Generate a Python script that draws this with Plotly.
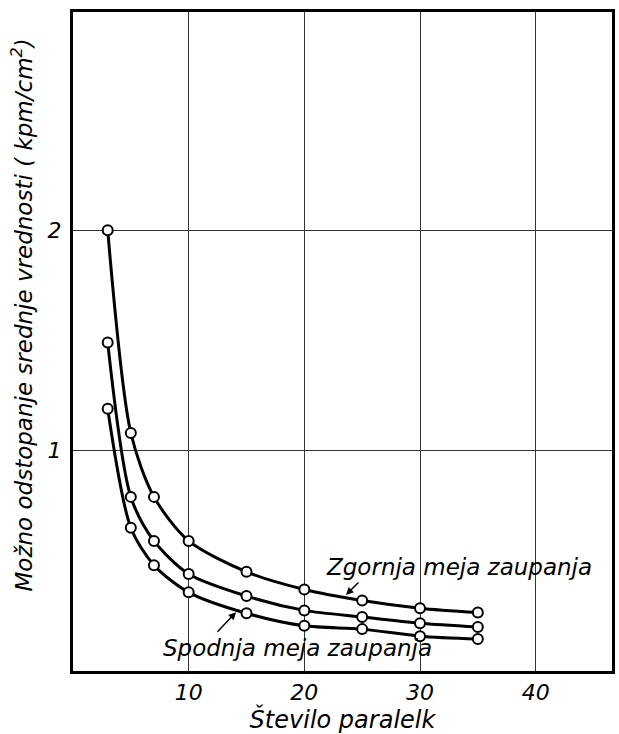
import plotly.graph_objects as go

# Number of parallel samples
paralelke = [3, 5, 7, 10, 15, 20, 25, 30, 35]

# Possible deviation of the mean value (kpm/cm2)
zgornja = [2.00, 1.08, 0.79, 0.59, 0.45, 0.37, 0.32, 0.285, 0.265]
srednja = [1.49, 0.79, 0.59, 0.44, 0.34, 0.275, 0.245, 0.217, 0.20]
spodnja = [1.19, 0.65, 0.48, 0.357, 0.262, 0.205, 0.19, 0.158, 0.145]

x_ticks = [10, 20, 30, 40]
y_ticks = [1, 2]

FONT = "DejaVu Sans"


def italic(size):
    return dict(family=FONT, size=size, color="black", style="italic")


fig = go.Figure()
for name, vals in [("Zgornja", zgornja), ("Srednja", srednja), ("Spodnja", spodnja)]:
    fig.add_trace(go.Scatter(
        x=paralelke, y=vals, name=name,
        mode="lines+markers",
        line=dict(color="black", width=3, shape="spline", smoothing=0.8),
        marker=dict(symbol="circle", size=10, color="white",
                    line=dict(color="black", width=2)),
        showlegend=False,
    ))

axis_common = dict(
    showline=True, linecolor="black", linewidth=3, mirror=True,
    showgrid=True, gridcolor="#333333", gridwidth=1,
    zeroline=False, ticks="",
    tickfont=italic(22),
)

fig.update_layout(
    width=619, height=734,
    margin=dict(l=73, r=4, t=12, b=63),
    paper_bgcolor="white", plot_bgcolor="white",
    xaxis=dict(range=[0, 46.6], tickvals=x_ticks,
               title=dict(text="Število paralelk", standoff=4, font=italic(24)),
               **axis_common),
    yaxis=dict(range=[0, 2.99], tickvals=y_ticks, ticklabelstandoff=4,
               **axis_common),
    annotations=[
        # y-axis title, placed slightly above the axis centre
        dict(x=-0.094, y=0.54, xref="paper", yref="paper",
             text="Možno odstopanje srednje vrednosti ( kpm/cm<sup>2</sup>)",
             textangle=-90, showarrow=False,
             xanchor="center", yanchor="middle", font=italic(23)),
        dict(x=21.7, y=0.47, xref="x", yref="y",
             text="Zgornja meja zaupanja", showarrow=False,
             xanchor="left", yanchor="middle", font=italic(23)),
        dict(x=23.6, y=0.345, xref="x", yref="y", text="",
             showarrow=True, arrowhead=2, arrowsize=1, arrowwidth=1.5,
             arrowcolor="black", ax=14, ay=-14),
        dict(x=19.4, y=0.105, xref="x", yref="y",
             text="Spodnja meja zaupanja", showarrow=False,
             xanchor="center", yanchor="middle", font=italic(23)),
        dict(x=14.1, y=0.267, xref="x", yref="y", text="",
             showarrow=True, arrowhead=2, arrowsize=1, arrowwidth=1.5,
             arrowcolor="black", ax=-20, ay=21),
    ],
)

fig.write_html("out.html")
